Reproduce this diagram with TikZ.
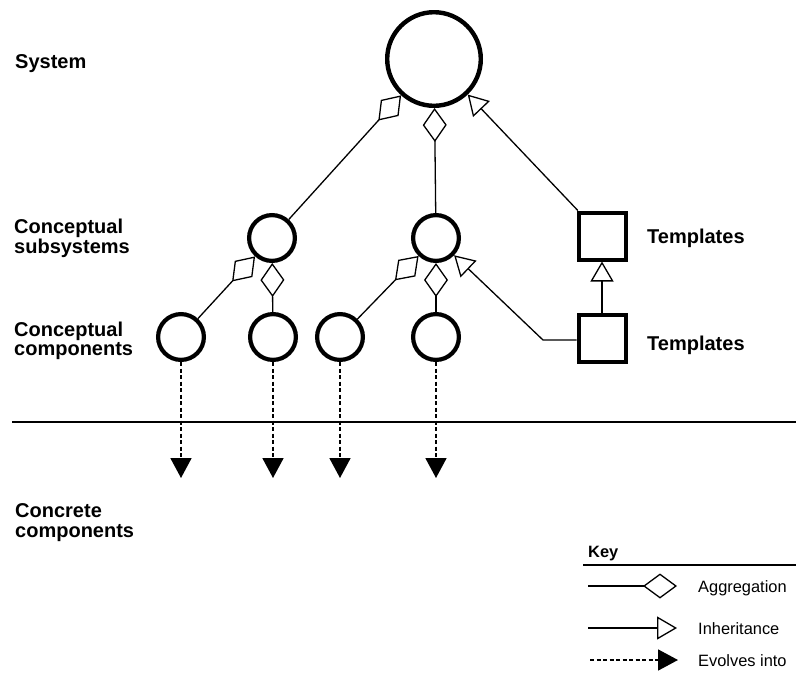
\documentclass[tikz,border=0pt]{standalone}
\usepackage{fontspec}
\setmainfont{Liberation Sans}
\usetikzlibrary{arrows.meta}
\begin{document}
\begin{tikzpicture}[x=1pt,y=-1pt,
  bigc/.style={circle,draw,line width=4.4pt,minimum size=93.6pt,inner sep=0pt},
  midc/.style={circle,draw,line width=4.2pt,minimum size=45.8pt,inner sep=0pt},
  sqbox/.style={rectangle,draw,line width=4pt,minimum size=47pt,inner sep=0pt},
  agg/.style={line width=1.3pt,-{Diamond[open,length=34pt,width=24pt]}},
  inh/.style={line width=1.3pt,-{Triangle[open,length=20pt,width=23pt]}},
  evo/.style={line width=1.8pt,dash pattern=on 4pt off 2.5pt,-{Triangle[length=20pt,width=21pt]}},
  lbl/.style={anchor=base west,inner sep=0pt,font=\fontsize{20}{20}\selectfont\bfseries,align=left},
  keytxt/.style={anchor=base west,inner sep=0pt,font=\fontsize{16.4}{16}\selectfont}]
\useasboundingbox (0,0) rectangle (796,681);

% nodes
\node[bigc] (sys) at (434,59) {};
\node[midc] (s1) at (272,238) {};
\node[midc] (s2) at (436,238) {};
\node[midc] (c1) at (181,337) {};
\node[midc] (c2) at (273,337) {};
\node[midc] (c3) at (340,337) {};
\node[midc] (c4) at (436,337) {};
\node[sqbox] (t1) at (602,236) {};
\node[sqbox] (t2) at (602,338) {};

% labels
\node[lbl] (lsys) at (15,68) {System};
\node[lbl] (lsub1) at (14,233) {Conceptual};
\node[lbl] (lsub2) at (14,253) {subsystems};
\node[lbl] (lcom1) at (14,336) {Conceptual};
\node[lbl] (lcom2) at (14,355) {components};
\node[lbl] (lcon1) at (15,517) {Concrete};
\node[lbl] (lcon2) at (15,537) {components};
\node[lbl] (lt1) at (647,243) {Templates};
\node[lbl] (lt2) at (647,350) {Templates};

% connectors
\draw[agg] (s1) -- (sys);
\draw[agg] (s2) -- (sys);
\draw[inh] (t1) -- (sys);
\draw[agg] (c1) -- (s1);
\draw[agg] (c2) -- (s1);
\draw[agg] (c3) -- (s2);
\draw[agg] (c4) -- (s2);
\coordinate (bend) at (543,340);
\draw[inh] (t2.west |- bend) -- (bend) -- (s2);
\draw[inh] (t2) -- (t1);

% evolves
\coordinate (e1) at (181,478);
\coordinate (e2) at (273,478);
\coordinate (e3) at (340,478);
\coordinate (e4) at (436,478);
\draw[evo] (c1) -- (e1);
\draw[evo] (c2) -- (e2);
\draw[evo] (c3) -- (e3);
\draw[evo] (c4) -- (e4);

% divider
\coordinate (ra) at (12,422);
\coordinate (rb) at (796,422);
\draw[line width=1.2pt] (ra) -- (rb);

% key
\node[keytxt,font=\fontsize{16.4}{16}\selectfont\bfseries] (key) at (588,557) {Key};
\coordinate (kla) at (583,565);
\coordinate (klb) at (796,565);
\draw[line width=1.2pt] (kla) -- (klb);
\coordinate (k1a) at (588,586);
\coordinate (k1b) at (677,586);
\coordinate (k2a) at (588,628);
\coordinate (k2b) at (677,628);
\coordinate (k3a) at (590,660);
\coordinate (k3b) at (678,660);
\draw[line width=1.3pt,-{Diamond[open,length=34pt,width=25pt]}] (k1a) -- (k1b);
\draw[inh] (k2a) -- (k2b);
\draw[evo] (k3a) -- (k3b);
\node[keytxt] (ka) at (698,592) {Aggregation};
\node[keytxt] (ki) at (698,634) {Inheritance};
\node[keytxt] (ke) at (698,666) {Evolves into};
\end{tikzpicture}
\end{document}
